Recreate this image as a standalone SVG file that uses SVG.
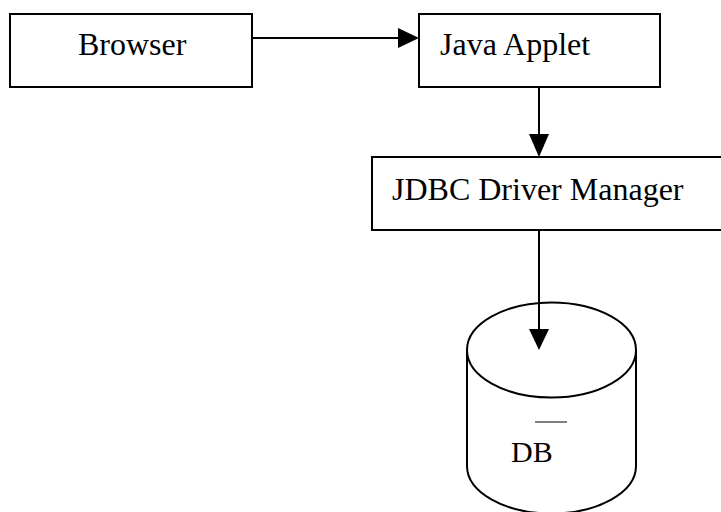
<svg xmlns="http://www.w3.org/2000/svg" width="721" height="512" viewBox="0 0 721 512">
<style>
.box{fill:#fff;stroke:#000;stroke-width:2}
.lbl{font-family:"Liberation Serif","Times New Roman",serif;font-size:32px;fill:#000}
.ln{stroke:#000;stroke-width:2;fill:none}
.ah{fill:#000;stroke:none}
</style>
<rect width="721" height="512" fill="#fff"/>
<g id="browser">
<rect class="box" x="10" y="14" width="242" height="73"/>
<text class="lbl" x="78" y="55">Browser</text>
</g>
<g id="applet">
<rect class="box" x="419" y="14" width="241" height="73"/>
<text class="lbl" x="440" y="55">Java Applet</text>
</g>
<g id="jdbc">
<rect class="box" x="372" y="157" width="360" height="73"/>
<text class="lbl" x="392" y="200">JDBC Driver Manager</text>
</g>
<g id="db">
<path class="box" d="M467,350 L467,466 A84.5,47.5 0 0 0 636,466 L636,350"/>
<ellipse class="box" cx="551.5" cy="350" rx="84.5" ry="47.5"/>
<line x1="535" y1="422" x2="567" y2="422" stroke="#000" stroke-width="1"/>
<text class="lbl" x="511" y="462" style="font-size:30px">DB</text>
</g>
<g id="connectors">
<line class="ln" x1="252" y1="38" x2="400" y2="38"/>
<polygon class="ah" points="398,28 419,38 398,48"/>
<line class="ln" x1="539" y1="87" x2="539" y2="135"/>
<polygon class="ah" points="529,134 549,134 539,157"/>
<line class="ln" x1="539" y1="230" x2="539" y2="331"/>
<polygon class="ah" points="529,329 549,329 539,350"/>
</g>
</svg>
